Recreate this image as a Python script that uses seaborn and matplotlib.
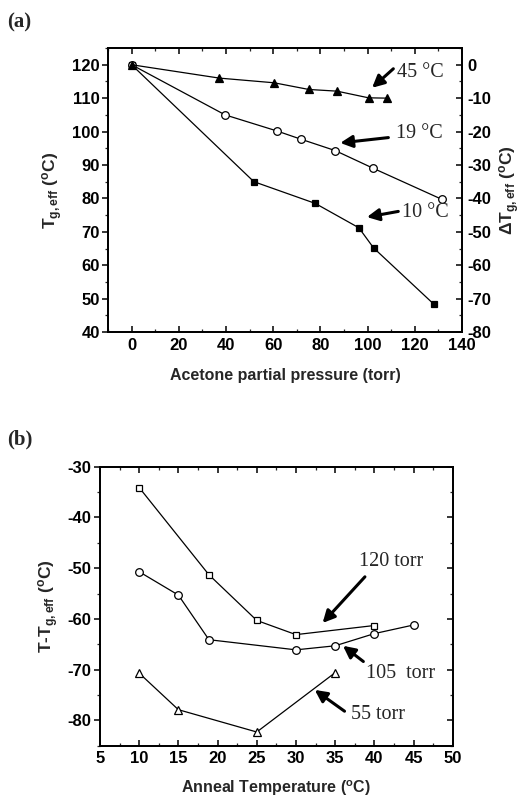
import matplotlib
matplotlib.use("Agg")
import matplotlib.pyplot as plt
from matplotlib.ticker import MultipleLocator, NullFormatter
import seaborn as sns
import pandas as pd

# ---- Panel (a) data ----
p10 = [0, 51.8, 77.8, 96.3, 102.5, 128.1]
t10 = [120, 85.0, 78.5, 71.2, 65.2, 48.3]
p19 = [0, 39.6, 61.5, 71.8, 86.3, 102.4, 131.5]
t19 = [120, 105.0, 100.2, 97.7, 94.3, 89.0, 79.7]
p45 = [0, 37.2, 60.4, 75.1, 87.0, 100.4, 108.4]
t45 = [120, 116.0, 114.6, 112.6, 112.1, 110.1, 110.0]

# ---- Panel (b) data ----
a120 = [10, 18.9, 25, 30, 40]
d120 = [-34.1, -51.3, -60.3, -63.1, -61.3]
a105 = [10, 15, 18.9, 30, 35, 40, 45]
d105 = [-50.7, -55.3, -64.1, -66.1, -65.3, -62.9, -61.2]
a55 = [10, 15, 25, 35]
d55 = [-70.7, -77.9, -82.3, -70.6]

sns.set_theme(style="ticks")
plt.rcParams['font.family'] = ['Liberation Sans', 'DejaVu Sans']
plt.rcParams['font.weight'] = 'bold'
plt.rcParams['axes.labelweight'] = 'bold'
plt.rcParams['axes.unicode_minus'] = False
plt.rcParams['mathtext.fontset'] = 'custom'
plt.rcParams['mathtext.rm'] = 'Liberation Sans:bold'
plt.rcParams['mathtext.it'] = 'Liberation Sans:bold'
plt.rcParams['mathtext.bf'] = 'Liberation Sans:bold'

fig = plt.figure(figsize=(5.23, 8.02), dpi=100)
axa = fig.add_axes([0.2065, 0.586, 0.6769, 0.3541])
axb = fig.add_axes([0.1912, 0.0702, 0.6744, 0.3478])

lw = 0.9
def draw(ax, x, y, marker, filled, ms):
    df = pd.DataFrame({"x": x, "y": y})
    sns.lineplot(data=df, x="x", y="y", ax=ax, sort=False, estimator=None,
                 color="black", lw=lw, marker=marker, markersize=ms,
                 markerfacecolor="black" if filled else "white",
                 markeredgecolor="black", markeredgewidth=0.9)

draw(axa, p10, t10, "s", True, 5)
draw(axa, p19, t19, "o", False, 5.5)
draw(axa, p45, t45, "^", True, 6)

axa.set_xlim(-10, 140)
axa.set_ylim(40, 125)
axa.xaxis.set_major_locator(MultipleLocator(20))
axa.xaxis.set_minor_locator(MultipleLocator(10))
axa.yaxis.set_major_locator(MultipleLocator(10))
axa.yaxis.set_minor_locator(MultipleLocator(5))
axa.set_xlabel("Acetone partial pressure (torr)", fontsize=11.5, labelpad=11)
axa.set_ylabel(r"T$_{\mathregular{g,eff}}$ ($^{\mathregular{o}}$C)", fontsize=12.5, labelpad=5)

axr = axa.twinx()
axr.set_position(axa.get_position())
axr.set_ylim(40 - 120, 125 - 120)
axr.yaxis.set_major_locator(MultipleLocator(10))
axr.yaxis.set_minor_locator(MultipleLocator(5))
axr.set_ylabel(r"$\Delta$T$_{\mathregular{g,eff}}$ ($^{\mathregular{o}}$C)", fontsize=12.5, labelpad=4)

axb2 = axb.twinx()
axb2.set_position(axb.get_position())
axb2.set_ylim(-85, -30)
axb2.yaxis.set_major_locator(MultipleLocator(10))
axb2.yaxis.set_minor_locator(MultipleLocator(5))
axb2.yaxis.set_major_formatter(NullFormatter())

for ax in (axa, axb, axr, axb2):
    for s in ax.spines.values():
        s.set_linewidth(1.3)
        s.set_color("black")
    ax.tick_params(which="major", length=4, width=1.1, labelsize=12, colors="black", pad=2)
    ax.tick_params(which="minor", length=2.5, width=0.9)

for ax in (axa, axb):
    ax.tick_params(axis="x", which="both", direction="in", top=True, bottom=True)
    ax.tick_params(axis="x", which="major", pad=4)
    ax.tick_params(axis="y", which="both", direction="out", left=True, right=False)
for ax in (axr, axb2):
    ax.tick_params(axis="y", which="both", direction="in")
    ax.tick_params(axis="y", which="major", pad=4)

serif = ['Liberation Serif', 'DejaVu Serif']
arrow = dict(arrowstyle="-|>,head_length=0.6,head_width=0.3", color="black", lw=2.2, shrinkA=0, shrinkB=0)

axa.annotate("", xy=(101.9, 113.1), xytext=(110.9, 118.8), arrowprops=arrow)
axa.text(122.3, 117.6, "45 \u00b0C", family=serif, fontweight="normal", fontsize=14.5, ha="center", va="center")
axa.annotate("", xy=(88.4, 96.6), xytext=(108.8, 98.2), arrowprops=arrow)
axa.text(122.1, 99.4, "19 \u00b0C", family=serif, fontweight="normal", fontsize=14.5, ha="center", va="center")
axa.annotate("", xy=(99.7, 74.4), xytext=(113.0, 76.1), arrowprops=arrow)
axa.text(124.4, 75.8, "10 \u00b0C", family=serif, fontweight="normal", fontsize=14.5, ha="center", va="center")

# ---- Panel (b) ----
draw(axb, a120, d120, "s", False, 5)
draw(axb, a105, d105, "o", False, 5.5)
draw(axb, a55, d55, "^", False, 6)

axb.set_xlim(5, 50)
axb.set_ylim(-85, -30)
axb.xaxis.set_major_locator(MultipleLocator(5))
axb.xaxis.set_minor_locator(MultipleLocator(2.5))
axb.yaxis.set_major_locator(MultipleLocator(10))
axb.yaxis.set_minor_locator(MultipleLocator(5))
axb.set_xlabel(r"Anneal Temperature ($^{\mathregular{o}}$C)", fontsize=11.5, labelpad=9)
axb.set_ylabel(r"T-T$_{\mathregular{g,eff}}$ ($^{\mathregular{o}}$C)", fontsize=12.5, labelpad=5)

axb.annotate("", xy=(33.4, -60.8), xytext=(38.8, -51.7), arrowprops=arrow)
axb.text(42.2, -48.7, "120 torr", family=serif, fontweight="normal", fontsize=14.5, ha="center", va="center")
axb.annotate("", xy=(36.0, -65.3), xytext=(38.6, -68.4), arrowprops=arrow)
axb.text(43.4, -70.8, "105  torr", family=serif, fontweight="normal", fontsize=14.5, ha="center", va="center")
axb.annotate("", xy=(32.4, -74.0), xytext=(36.2, -78.2), arrowprops=arrow)
axb.text(40.5, -78.9, "55 torr", family=serif, fontweight="normal", fontsize=14.5, ha="center", va="center")

fig.text(0.013, 0.972, "(a)", family=serif, fontsize=15, fontweight="bold", ha="left", va="center")
fig.text(0.013, 0.452, "(b)", family=serif, fontsize=15, fontweight="bold", ha="left", va="center")

fig.savefig("out.png", dpi=100, facecolor="white")
